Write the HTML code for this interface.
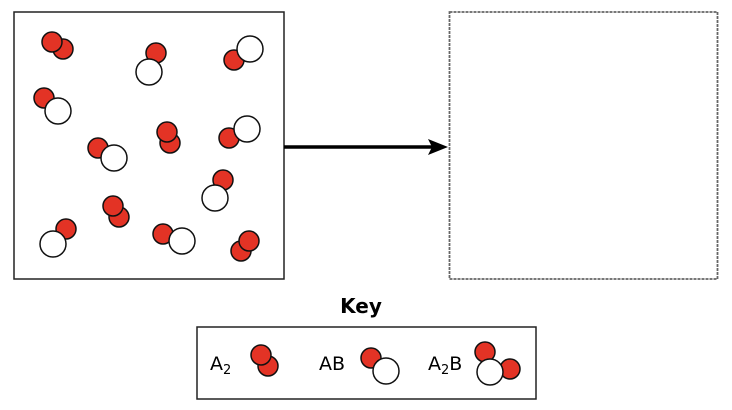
<!DOCTYPE html>
<html><head><style>body{margin:0;background:#fff}svg{display:block}</style></head><body>
<svg width="732" height="410" viewBox="0 0 732 410" xmlns="http://www.w3.org/2000/svg" font-family="DejaVu Sans, Liberation Sans, sans-serif">
<rect x="14" y="12" width="270" height="267" fill="#fff" stroke="#222" stroke-width="1.5"/>
<rect x="449.5" y="12" width="268" height="267" fill="#fff" stroke="#666" stroke-width="1.8" stroke-dasharray="3,1"/>
<line x1="284" y1="147" x2="434" y2="147" stroke="#000" stroke-width="3.5"/>
<polygon points="448,147 428,139 432,147 428,155" fill="#000"/>
<g stroke="#111" stroke-width="1.5">
<g fill="#e33325">
<circle cx="63" cy="49" r="10"/><circle cx="52" cy="42" r="10"/>
<circle cx="156" cy="53" r="10"/>
<circle cx="234" cy="60" r="10"/>
<circle cx="44" cy="98" r="10"/>
<circle cx="98" cy="148" r="10"/>
<circle cx="170" cy="143" r="10"/><circle cx="167" cy="132" r="10"/>
<circle cx="229" cy="138" r="10"/>
<circle cx="223" cy="180" r="10"/>
<circle cx="119" cy="217" r="10"/><circle cx="113" cy="206" r="10"/>
<circle cx="66" cy="229" r="10"/>
<circle cx="163" cy="234" r="10"/>
<circle cx="241" cy="251" r="10"/><circle cx="249" cy="241" r="10"/>
</g>
<g fill="#fff">
<circle cx="149" cy="72" r="13"/>
<circle cx="250" cy="49" r="13"/>
<circle cx="58" cy="111" r="13"/>
<circle cx="114" cy="158" r="13"/>
<circle cx="247" cy="129" r="13"/>
<circle cx="215" cy="198" r="13"/>
<circle cx="53" cy="244" r="13"/>
<circle cx="182" cy="241" r="13"/>
</g>
</g>
<text x="361" y="313" font-size="20" font-weight="bold" text-anchor="middle">Key</text>
<rect x="197" y="327" width="339" height="72" fill="#fff" stroke="#222" stroke-width="1.5"/>
<text x="210" y="370" font-size="19">A<tspan font-size="13" dy="4">2</tspan></text>
<text x="319" y="370" font-size="19">AB</text>
<text x="428" y="370" font-size="19">A<tspan font-size="13" dy="4">2</tspan><tspan dy="-4">B</tspan></text>
<g stroke="#111" stroke-width="1.5">
<circle cx="268" cy="366" r="10" fill="#e33325"/><circle cx="261" cy="355" r="10" fill="#e33325"/>
<circle cx="371" cy="358" r="10" fill="#e33325"/><circle cx="386" cy="371" r="13" fill="#fff"/>
<circle cx="485" cy="352" r="10" fill="#e33325"/><circle cx="510" cy="369" r="10" fill="#e33325"/><circle cx="490" cy="372" r="13" fill="#fff"/>
</g>
</svg>
</body></html>
